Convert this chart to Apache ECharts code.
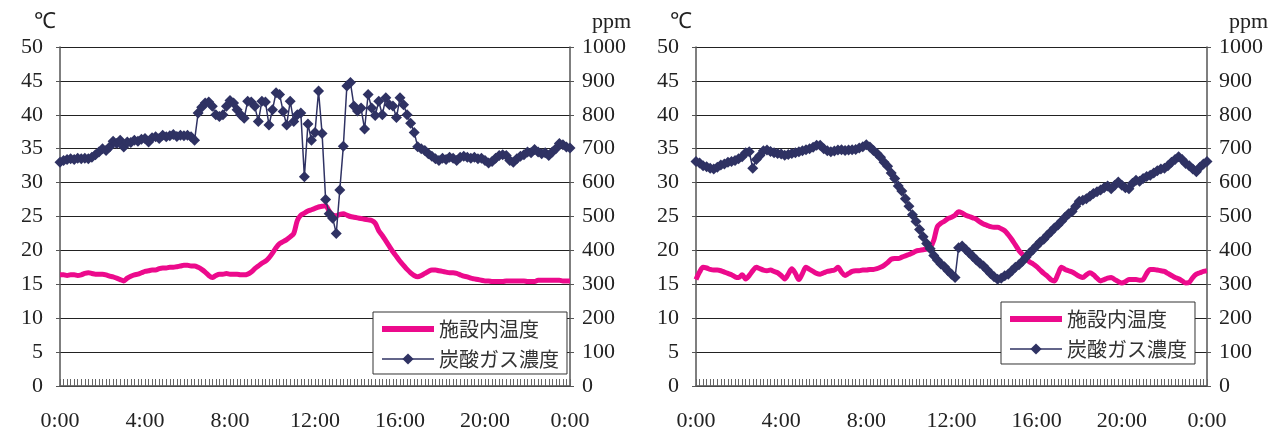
<!DOCTYPE html>
<html>
<head>
<meta charset="utf-8">
<script src="https://cdn.jsdelivr.net/npm/echarts@6/dist/echarts.min.js"></script>
<style>
  html, body { margin: 0; background: #fff; }
  #chart { width: 1274px; height: 435px; }
</style>
</head>
<body>
<div id="chart"></div>
<script>
// 10-minute slots from 0:00 to 24:00 (145 categories)
const slots = Array.from({ length: 145 }, (_, i) => String(i))
const tickLabels = ['0:00', '4:00', '8:00', '12:00', '16:00', '20:00', '0:00']

// left panel
const tempA = [
  16.4, 16.4, 16.3, 16.4, 16.4, 16.3, 16.4, 16.6, 16.7, 16.6,
  16.5, 16.5, 16.5, 16.4, 16.2, 16.1, 15.9, 15.7, 15.5, 15.9,
  16.2, 16.4, 16.5, 16.7, 16.9, 17.0, 17.1, 17.1, 17.3, 17.4,
  17.4, 17.5, 17.5, 17.6, 17.7, 17.8, 17.8, 17.7, 17.7, 17.5,
  17.2, 16.8, 16.3, 16.0, 16.3, 16.5, 16.5, 16.6, 16.5, 16.5,
  16.5, 16.4, 16.4, 16.5, 16.8, 17.3, 17.7, 18.1, 18.4, 18.9,
  19.6, 20.4, 21.0, 21.3, 21.6, 22.0, 22.5, 24.4, 25.2, 25.5,
  25.8, 26.0, 26.2, 26.4, 26.5, 26.6, 25.8, 25.2, 25.1, 25.3,
  25.4, 25.2, 25.0, 24.9, 24.8, 24.7, 24.6, 24.5, 24.4, 24.0,
  22.9, 22.2, 21.4, 20.6, 19.8, 19.1, 18.4, 17.8, 17.2, 16.7,
  16.3, 16.1, 16.3, 16.6, 16.9, 17.1, 17.1, 17.0, 16.9, 16.8,
  16.7, 16.7, 16.6, 16.4, 16.2, 16.1, 15.9, 15.8, 15.7, 15.6,
  15.5, 15.5, 15.4, 15.4, 15.4, 15.4, 15.5, 15.5, 15.5, 15.5,
  15.5, 15.5, 15.4, 15.4, 15.4, 15.6, 15.6, 15.6, 15.6, 15.6,
  15.6, 15.6, 15.5, 15.5, 15.5
]
const co2A = [
  660, 665, 668, 670, 668, 672, 670, 672, 670, 675,
  682, 690, 700, 695, 705, 722, 715, 725, 705, 720,
  718, 725, 722, 728, 730, 720, 732, 735, 730, 740,
  735, 738, 742, 736, 740, 738, 740, 735, 725, 805,
  822, 835, 838, 825, 800, 795, 800, 825, 842, 835,
  815, 800, 790, 840, 838, 825, 780, 840, 838, 770,
  815, 865, 860, 810, 770, 840, 780, 800, 805, 617,
  773, 725, 748, 870, 745, 550, 508, 495, 450, 578,
  707, 885, 895, 826, 811, 820, 758, 860, 820, 798,
  840, 800, 850, 830, 826, 792, 850, 830, 800, 775,
  748, 706, 700, 695, 685, 678, 670, 665, 672, 668,
  675, 672, 665, 675, 678, 675, 672, 675, 670, 672,
  665, 658, 662, 672, 680, 682, 680, 665, 660, 670,
  678, 682, 690, 688, 698, 690, 685, 688, 680, 690,
  700, 715, 712, 705, 702
]

// right panel
const tempB = [
  15.7, 16.8, 17.5, 17.4, 17.2, 17.1, 17.1, 17.0, 16.8, 16.6,
  16.4, 16.1, 16.0, 16.4, 15.8, 16.3, 17.0, 17.5, 17.3, 17.1,
  17.0, 17.1, 16.9, 16.7, 16.3, 15.8, 16.5, 17.3, 16.6, 15.7,
  16.6, 17.5, 17.2, 16.9, 16.6, 16.5, 16.7, 16.9, 17.0, 17.1,
  17.5, 16.8, 16.3, 16.6, 16.9, 17.0, 17.0, 17.1, 17.1, 17.2,
  17.2, 17.3, 17.5, 17.8, 18.2, 18.7, 18.8, 18.8, 19.0, 19.2,
  19.4, 19.6, 19.9, 20.0, 20.1, 20.2, 20.4, 21.5, 23.5, 24.0,
  24.3, 24.7, 24.9, 25.2, 25.7, 25.5, 25.2, 25.0, 24.8, 24.6,
  24.2, 23.9, 23.7, 23.5, 23.4, 23.4, 23.2, 22.9, 22.3, 21.6,
  20.8, 20.0, 19.4, 18.8, 18.3, 18.0, 17.6, 17.1, 16.6, 16.2,
  15.7, 15.5, 16.5, 17.5, 17.2, 17.0, 16.8, 16.5, 16.2, 16.0,
  16.4, 16.7, 16.4, 15.9, 15.5, 15.7, 15.9, 16.0, 15.7, 15.4,
  15.2, 15.4, 15.7, 15.7, 15.7, 15.6, 15.7, 16.6, 17.2, 17.2,
  17.1, 17.0, 16.9, 16.6, 16.3, 16.0, 15.8, 15.5, 15.2, 15.3,
  16.0, 16.5, 16.7, 16.9, 17.0
]
const co2B = [
  662, 658, 650, 647, 642, 640, 645, 652, 655, 660,
  662, 665, 670, 676, 688, 691, 642, 668, 680, 694,
  696, 692, 688, 686, 684, 681, 683, 686, 688, 691,
  694, 697, 700, 704, 710, 710, 700, 694, 691, 693,
  696, 697, 695, 696, 697, 698, 702, 706, 712, 705,
  695, 686, 675, 660, 648, 628, 612, 590, 575, 552,
  530, 505, 485, 462, 440, 420, 405, 385, 372, 360,
  352, 340, 330, 320, 408, 413, 403, 392, 382, 372,
  362, 354, 343, 332, 322, 315, 318, 325, 330, 340,
  350, 358, 368, 380, 392, 403, 414, 425, 433, 445,
  455, 466, 475, 486, 498, 508, 515, 530, 545, 548,
  552, 560, 568, 573, 578, 585, 590, 582, 592, 602,
  592, 585, 582, 598, 607, 604, 612, 618, 622, 628,
  635, 640, 642, 650, 660, 668, 676, 668, 656, 650,
  640, 632, 645, 655, 662
]

const serif = 'Liberation Serif'
const cjk = 'Noto Sans CJK JP'
const pink = '#ec0a8c'
const navy = '#2f3263'

const chart = echarts.init(document.getElementById('chart'))

const grids = [
  { left: 60, top: 47, width: 510, height: 339 },
  { left: 696, top: 47, width: 511, height: 339 }
]

const makeX = (gi) => ({
  type: 'category',
  gridIndex: gi,
  data: slots,
  boundaryGap: false,
  axisLine: { lineStyle: { color: '#555', width: 1.5 } },
  axisTick: { show: true, inside: true, length: 7, interval: 0, lineStyle: { color: '#666' } },
  axisLabel: {
    interval: 23,
    margin: 24,
    fontFamily: serif,
    fontSize: 22,
    color: '#222',
    formatter: (v) => tickLabels[Number(v) / 24]
  },
  splitLine: { show: false }
})

const makeYL = (gi) => ({
  type: 'value',
  gridIndex: gi,
  position: 'left',
  min: 0,
  max: 50,
  interval: 5,
  name: '℃',
  nameLocation: 'end',
  nameGap: 14,
  nameTextStyle: { fontFamily: serif, fontSize: 22, color: '#222', align: 'right', padding: [0, 4, 0, 0] },
  axisLine: { show: true, lineStyle: { color: '#555', width: 1.5 } },
  axisTick: { show: true, length: 4, lineStyle: { color: '#555' } },
  axisLabel: { margin: 17, fontFamily: serif, fontSize: 22, color: '#222' },
  splitLine: { show: true, lineStyle: { color: '#222', width: 1 } }
})

const makeYR = (gi) => ({
  type: 'value',
  gridIndex: gi,
  position: 'right',
  min: 0,
  max: 1000,
  interval: 100,
  name: 'ppm',
  nameLocation: 'end',
  nameGap: 14,
  nameTextStyle: { fontFamily: serif, fontSize: 22, color: '#222', align: 'left', padding: [0, 0, 0, 22] },
  axisLine: { show: true, lineStyle: { color: '#555', width: 1.5 } },
  axisTick: { show: true, length: 4, lineStyle: { color: '#555' } },
  axisLabel: { margin: 12, fontFamily: serif, fontSize: 22, color: '#222', formatter: (v) => String(v) },
  splitLine: { show: false }
})

const tempSeries = (xi, yi, data) => ({
  name: '施設内温度',
  type: 'line',
  xAxisIndex: xi,
  yAxisIndex: yi,
  data: data,
  smooth: 0.3,
  showSymbol: false,
  symbol: 'none',
  lineStyle: { color: pink, width: 5 },
  itemStyle: { color: pink },
  z: 2
})

const co2Series = (xi, yi, data) => ({
  name: '炭酸ガス濃度',
  type: 'line',
  xAxisIndex: xi,
  yAxisIndex: yi,
  data: data,
  symbol: 'diamond',
  symbolSize: 11,
  showAllSymbol: true,
  lineStyle: { color: navy, width: 1.5 },
  itemStyle: { color: navy },
  z: 3
})

const legendBase = {
  orient: 'vertical',
  backgroundColor: '#fff',
  borderColor: '#333',
  borderWidth: 1,
  borderRadius: 0,
  padding: [7, 8, 5, 6],
  itemGap: 10,
  itemWidth: 52,
  itemHeight: 14,
  textStyle: { fontFamily: cjk, fontSize: 20, color: '#333' },
  data: [
    { name: '施設内温度', itemStyle: { opacity: 0 }, lineStyle: { width: 6, color: pink } },
    { name: '炭酸ガス濃度', lineStyle: { width: 1.5, color: navy } }
  ]
}

chart.setOption({
  animation: false,
  backgroundColor: '#fff',
  grid: grids,
  legend: [
    Object.assign({}, legendBase, { left: 373, top: 312 }),
    Object.assign({}, legendBase, { left: 1001, top: 302 })
  ],
  xAxis: [makeX(0), makeX(1)],
  yAxis: [makeYL(0), makeYR(0), makeYL(1), makeYR(1)],
  series: [
    tempSeries(0, 0, tempA),
    co2Series(0, 1, co2A),
    tempSeries(1, 2, tempB),
    co2Series(1, 3, co2B)
  ]
})
</script>
</body>
</html>
